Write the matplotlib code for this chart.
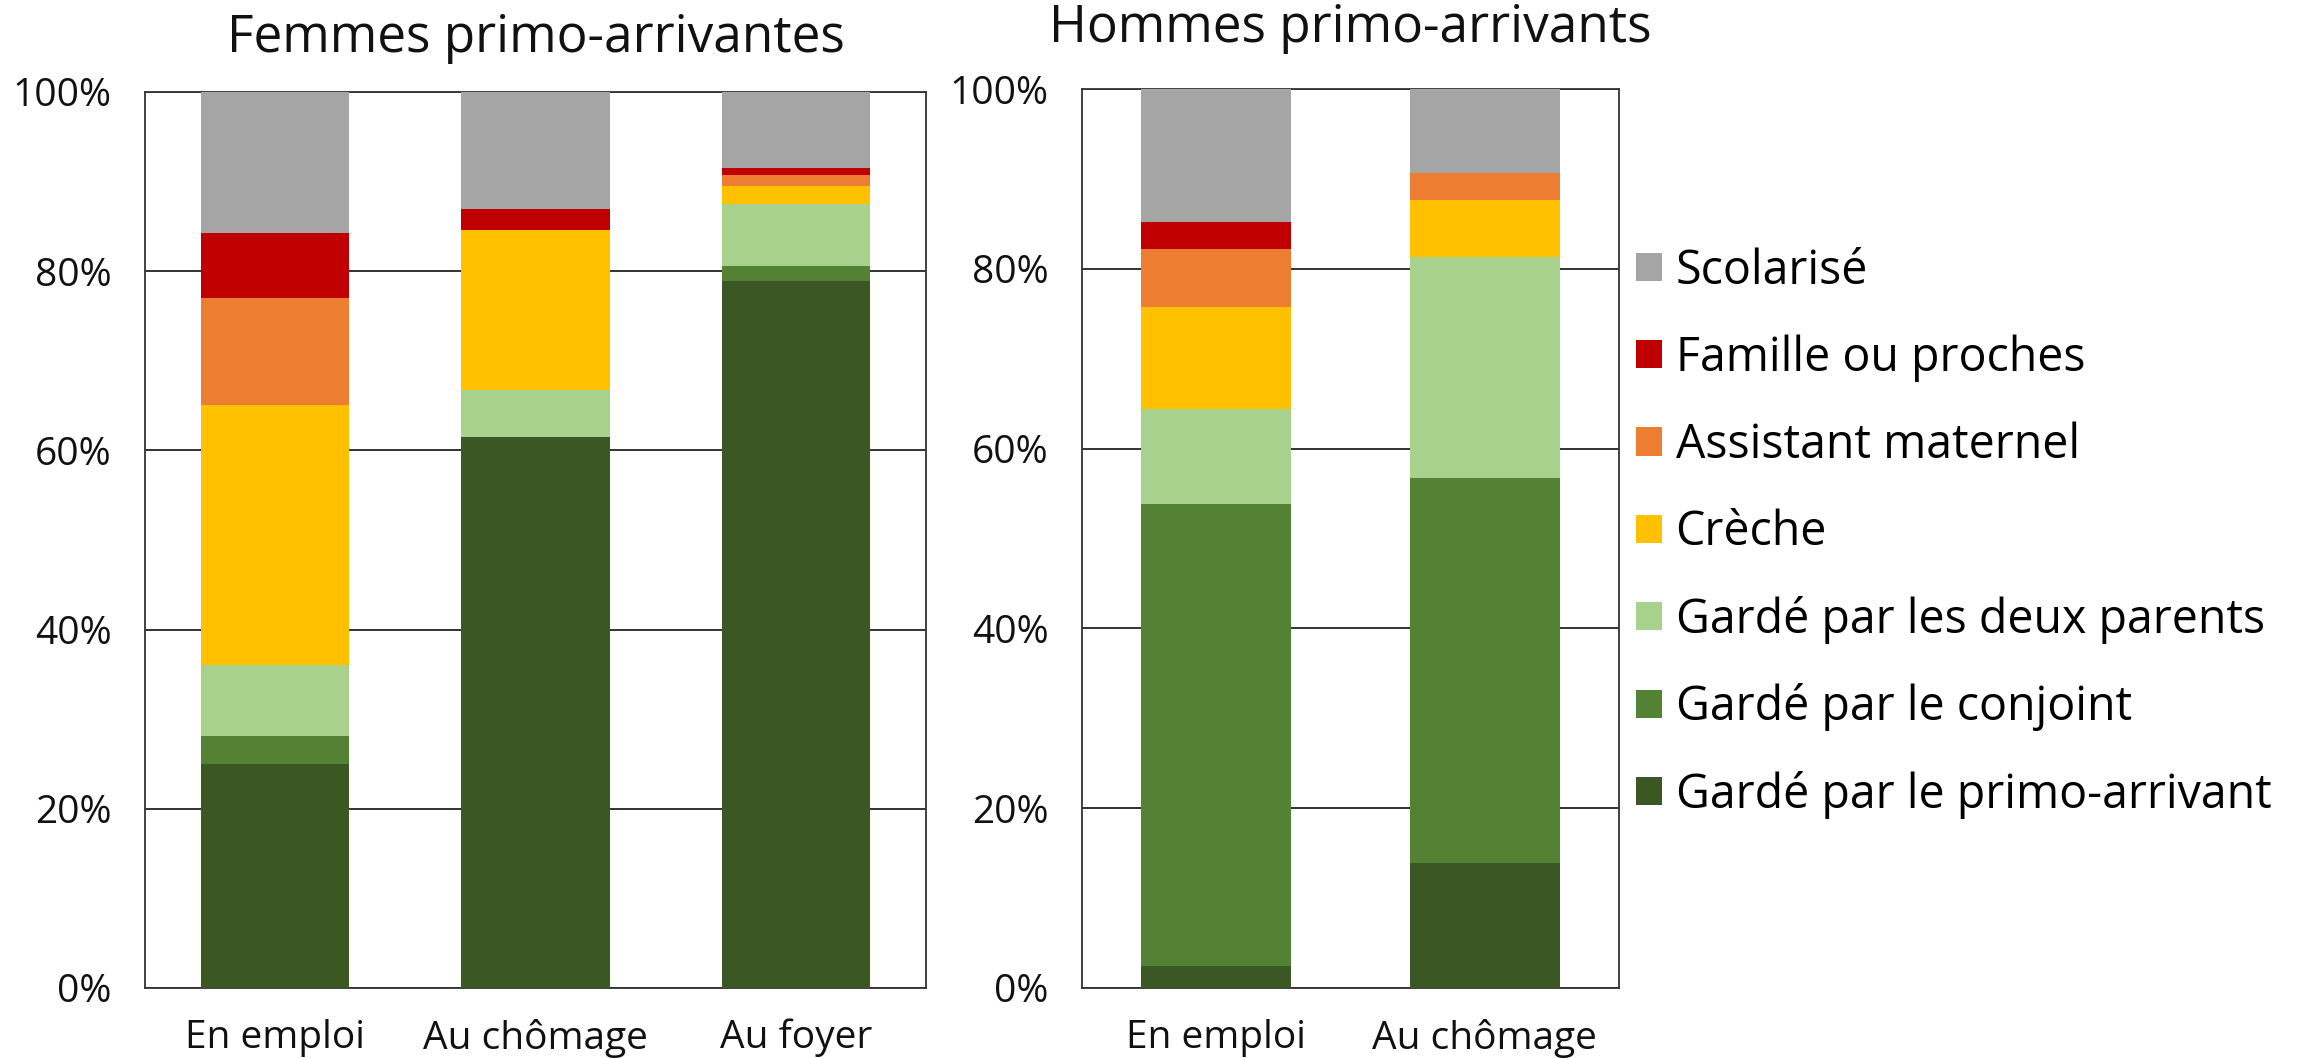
import numpy as np
import matplotlib.pyplot as plt

plt.rcParams['font.family'] = ['Open Sans', 'DejaVu Sans']

categories = ["Scolarisé", "Famille ou proches", "Assistant maternel", "Crèche",
              "Gardé par les deux parents", "Gardé par le conjoint",
              "Gardé par le primo-arrivant"]
colors = ["#A5A5A5", "#C00000", "#ED7D31", "#FFC000", "#A9D18E", "#548235", "#3A5724"]

# Femmes primo-arrivantes (en %)
femmes_groupes = ["En emploi", "Au chômage", "Au foyer"]
femmes_primo = [25.0, 61.5, 78.9]
femmes_conjoint = [3.1, 0.0, 1.7]
femmes_deux = [8.0, 5.2, 6.9]
femmes_creche = [29.0, 17.9, 2.0]
femmes_assistant = [11.9, 0.0, 1.2]
femmes_famille = [7.3, 2.3, 0.8]
femmes_scolarise = [15.7, 13.1, 8.5]

# Hommes primo-arrivants (en %)
hommes_groupes = ["En emploi", "Au chômage"]
hommes_primo = [2.5, 13.9]
hommes_conjoint = [51.3, 42.8]
hommes_deux = [10.6, 24.6]
hommes_creche = [11.3, 6.3]
hommes_assistant = [6.5, 3.1]
hommes_famille = [3.0, 0.0]
hommes_scolarise = [14.8, 9.3]

W, H = 2305, 1058
fig = plt.figure(figsize=(W / 100, H / 100), dpi=100)

ax1 = fig.add_axes([145 / W, (H - 988) / H, 781 / W, 896 / H])
ax2 = fig.add_axes([1082 / W, (H - 988) / H, 537 / W, 899 / H])


def draw(ax, groupes, series, title, width, tpad):
    x = np.arange(len(groupes))
    bottom = np.zeros(len(groupes))
    # empilement du bas vers le haut : ordre inverse de la légende
    handles = []
    for vals, col, lab in zip(series, colors[::-1], categories[::-1]):
        b = ax.bar(x, vals, width, bottom=bottom, color=col, label=lab, zorder=3)
        handles.append(b)
        bottom += np.array(vals)
    ax.set_xlim(-0.5, len(groupes) - 0.5)
    ax.set_ylim(0, 100)
    ax.set_yticks([0, 20, 40, 60, 80, 100])
    ax.set_yticklabels([f"{v}%" for v in range(0, 101, 20)])
    ax.set_xticks(x)
    ax.set_xticklabels(groupes)
    ax.tick_params(axis='both', length=0, labelsize=28, colors='#111111')
    ax.tick_params(axis='y', pad=24)
    ax.tick_params(axis='x', pad=22)
    ax.yaxis.grid(True, color='#222222', linewidth=1.3, zorder=0)
    for s in ax.spines.values():
        s.set_color('#333333')
        s.set_linewidth(1.3)
    ax.set_title(title, fontsize=37, pad=tpad, color='#111111')
    return handles


draw(ax1, femmes_groupes,
     [femmes_primo, femmes_conjoint, femmes_deux, femmes_creche,
      femmes_assistant, femmes_famille, femmes_scolarise],
     "Femmes primo-arrivantes", 0.57, 29)
handles = draw(ax2, hommes_groupes,
               [hommes_primo, hommes_conjoint, hommes_deux, hommes_creche,
                hommes_assistant, hommes_famille, hommes_scolarise],
               "Hommes primo-arrivants", 0.56, 34)

fig.legend(handles[::-1], categories, loc='center left',
           bbox_to_anchor=(1636 / W, 1 - 533 / H), frameon=False,
           fontsize=33.5, handlelength=0.55, handleheight=0.55,
           handletextpad=0.3, labelspacing=0.85, borderaxespad=0,
           borderpad=0)

fig.savefig("out.png", dpi=100)
